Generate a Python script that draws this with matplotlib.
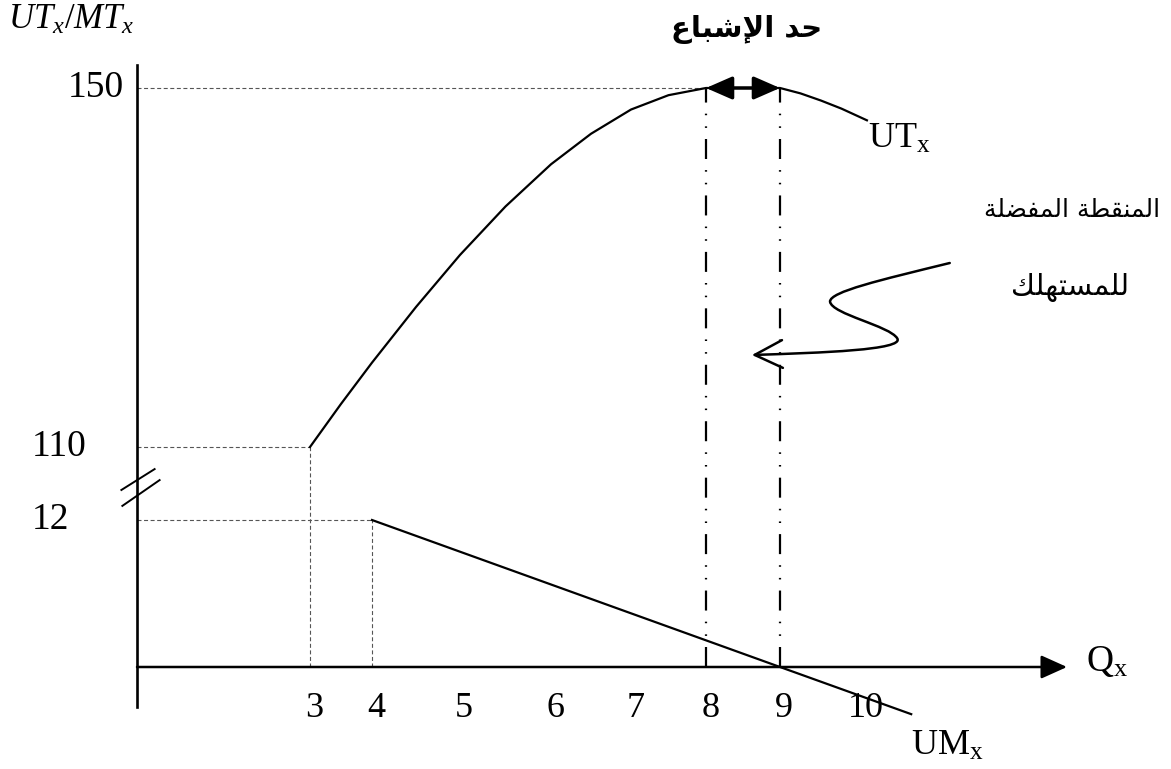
import numpy as np
import matplotlib
matplotlib.use("Agg")
import matplotlib.pyplot as plt
from matplotlib.patches import FancyArrowPatch
from matplotlib.path import Path

plt.rcParams["mathtext.fontset"] = "custom"
plt.rcParams["mathtext.rm"] = "Liberation Serif"
plt.rcParams["mathtext.it"] = "Liberation Serif:italic"

W, H = 1171, 769

# quantities marked on the horizontal axis
q_ticks = [3, 4, 5, 6, 7, 8, 9, 10]

# total utility UT_x
ut_q = [3, 3.5, 4, 4.5, 5, 5.5, 6, 6.5, 7, 7.5, 8, 8.5, 9, 9.25, 9.5, 9.75, 10.06]
ut_vals = [110, 114.8, 119.4, 125.6, 131.4, 136.8, 141.5, 144.9, 147.6, 149.2,
           150, 150, 150, 149.4, 148.6, 147.7, 146.4]

# marginal utility UM_x
um_q = [4, 9, 10.6]
um_vals = [12, 0, -3.85]

y_ticks = [150, 110, 12]
y_tick_left = [68, 32, 32]          # left edge of each value label (px)
sat_q = [8, 9]                      # satiation range
sat_level = 150

# schematic (non-uniform) axis layout in sheet pixels, y counted from the top
x_anchor_q = [-5, 0, 3, 4, 5, 6, 7, 8, 9, 10, 16]
x_anchor_px = [-151, 137, 310, 372, 460, 551, 631, 706, 780, 862, 1354]
y_anchor_v = [-20, 0, 12, 110, 150, 170]
y_anchor_px = [912, 667, 520, 447, 88, -91.5]
y_anchor_t = [H - p for p in y_anchor_px]


def fx(q):
    return np.interp(q, x_anchor_q, x_anchor_px)


def fx_inv(t):
    return np.interp(t, x_anchor_px, x_anchor_q)


def fy(v):
    return np.interp(v, y_anchor_v, y_anchor_t)


def fy_inv(t):
    return np.interp(t, y_anchor_t, y_anchor_v)


def shape(forms):
    # presentation forms are typed in reading order; lay them out left to right
    return forms[::-1]


satiation = shape("\uFEA3\uFEAA \uFE8D\uFEF9\uFEB7\uFE92\uFE8E\uFEC9")
pref_1 = shape("\uFE8D\uFEDF\uFEE4\uFEE8\uFED8\uFEC4\uFE94 "
               "\uFE8D\uFEDF\uFEE4\uFED4\uFEC0\uFEE0\uFE94")
pref_2 = shape("\uFEDF\uFEE0\uFEE4\uFEB4\uFE98\uFEEC\uFEE0\uFEDA")

fig = plt.figure(figsize=(W / 100, H / 100), dpi=100)
ax = fig.add_axes([0, 0, 1, 1])
ax.set_xscale("function", functions=(fx, fx_inv))
ax.set_yscale("function", functions=(fy, fy_inv))
ax.axis("off")

serif = "Liberation Serif"
guide = dict(color="#555555", lw=0.8, ls=(0, (3.6, 2.3)))
dashdot = dict(color="black", lw=1.6, ls=(0, (9.0, 5.0, 0.7, 5.0, 0.7, 5.0)))

# guide lines to the axes
ax.plot([0, sat_q[0]], [sat_level, sat_level], **guide)
ax.plot([0, ut_q[0]], [ut_vals[0], ut_vals[0]], **guide)
ax.plot([ut_q[0], ut_q[0]], [0, ut_vals[0]], **guide)
ax.plot([0, um_q[0]], [um_vals[0], um_vals[0]], **guide)
ax.plot([um_q[0], um_q[0]], [0, um_vals[0]], **guide)
for q in sat_q:
    ax.plot([q, q], [0, sat_level], **dashdot)

# curves
ax.plot(ut_q, ut_vals, color="black", lw=1.6, solid_joinstyle="round")
ax.plot(um_q, um_vals, color="black", lw=1.6)

# axes with arrow and break mark
ax.plot([0, 0], [-3.3, 152.6], color="black", lw=1.9)
ax.annotate("", xy=(12.5, 0), xytext=(0, 0),
            arrowprops=dict(arrowstyle="-|>,head_length=0.8,head_width=0.36",
                            mutation_scale=20, lw=1.8, color="black",
                            shrinkA=0, shrinkB=0))
brk = Path([(-17, -1), (18, 21), (-16, -17), (23, 10)],
           [Path.MOVETO, Path.LINETO, Path.MOVETO, Path.LINETO])
ax.plot([0], [54], marker=brk, ms=33, mew=1.4, mec="black", mfc="none")

# satiation range arrow
ax.annotate("", xy=(sat_q[1], sat_level), xytext=(sat_q[0], sat_level),
            arrowprops=dict(arrowstyle="<|-|>,head_length=0.8,head_width=0.35",
                            mutation_scale=20, lw=2.5, color="black",
                            shrinkA=0, shrinkB=0))

# hand-drawn pointer to the preferred point
pointer = Path(
    [(11.07, 130.5), (10.22, 128.6), (9.61, 127.3), (9.61, 126.2),
     (9.63, 124.8), (10.34, 123.5), (10.43, 122.1),
     (10.52, 120.8), (9.49, 120.5), (8.62, 120.25)],
    [Path.MOVETO] + [Path.CURVE4] * 9)
ax.add_patch(FancyArrowPatch(path=pointer,
                             arrowstyle="->,head_length=1.0,head_width=0.5",
                             mutation_scale=20, lw=1.8, color="black"))

# tick labels
for q in q_ticks:
    ax.annotate(str(q), xy=(q, 0), xytext=(3, -36), textcoords="offset points",
                ha="center", va="baseline", fontsize=26, family=serif)
for v, left in zip(y_ticks, y_tick_left):
    ax.annotate(str(v), xy=(left, v), xycoords=("figure pixels", "data"),
                ha="left", va="center", fontsize=27, family=serif)

# curve and axis names
ax.annotate(r"$\mathrm{UT}_{\mathrm{x}}$", xy=(ut_q[-1], ut_vals[-1]),
            xytext=(1, -20), textcoords="offset points",
            ha="left", va="baseline", fontsize=26)
ax.annotate(r"$\mathrm{UM}_{\mathrm{x}}$", xy=(um_q[-1], um_vals[-1]),
            xytext=(0, -29), textcoords="offset points",
            ha="left", va="baseline", fontsize=26)
ax.annotate(r"$\mathrm{Q}_{\mathrm{x}}$", xy=(12.5, 0),
            xytext=(14, -3), textcoords="offset points",
            ha="left", va="baseline", fontsize=27)
fig.text(8 / W, 1 - 29 / H, r"$UT_x/MT_x$", fontsize=25, va="baseline")

# Arabic captions
fig.text(747 / W, 1 - 30 / H, satiation, ha="center", va="center",
         fontsize=21, weight="bold", family="DejaVu Sans")
fig.text(1072 / W, 1 - 210 / H, pref_1, ha="center", va="center",
         fontsize=18, family="DejaVu Sans")
fig.text(1070 / W, 1 - 287 / H, pref_2, ha="center", va="center",
         fontsize=21, family="DejaVu Sans")

ax.set_xlim(fx_inv(0), fx_inv(W))
ax.set_ylim(fy_inv(0), fy_inv(H))

fig.savefig("out.png", dpi=100)
